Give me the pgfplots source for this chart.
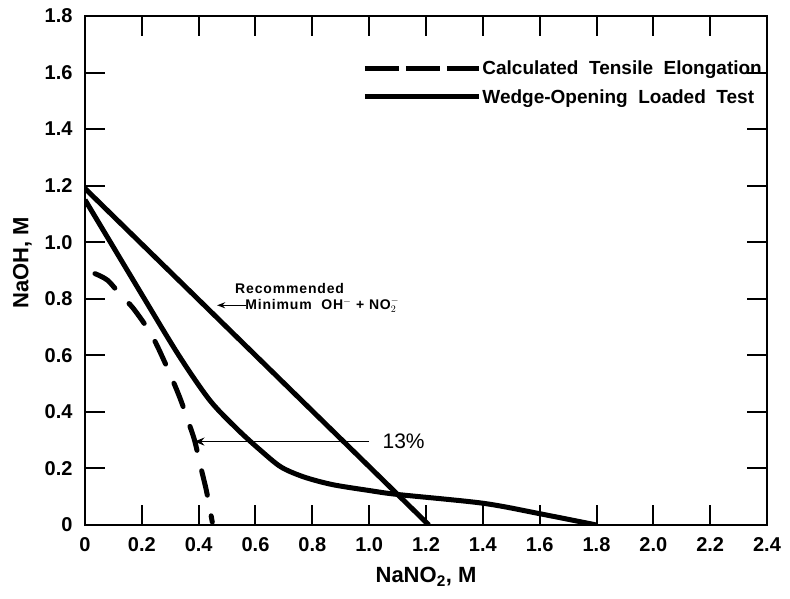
\documentclass[border=0pt]{standalone}
\usepackage{pgfplots}
\pgfplotsset{compat=1.18}
\usetikzlibrary{arrows.meta}
\usepackage{fontspec}
\setmainfont{Liberation Sans}
\begin{document}
\begin{tikzpicture}
\useasboundingbox (-85pt,-73pt) rectangle (705pt,525pt);
\begin{axis}[
  at={(0pt,0pt)}, anchor=south west,
  scale only axis, width=682pt, height=509pt,
  xmin=0, xmax=2.4, ymin=0, ymax=1.8,
  xtick={0,0.2,0.4,0.6,0.8,1.0,1.2,1.4,1.6,1.8,2.0,2.2,2.4},
  xticklabels={0,0.2,0.4,0.6,0.8,1.0,1.2,1.4,1.6,1.8,2.0,2.2,2.4},
  ytick={0,0.2,0.4,0.6,0.8,1.0,1.2,1.4,1.6,1.8},
  yticklabels={0,0.2,0.4,0.6,0.8,1.0,1.2,1.4,1.6,1.8},
  tick align=inside, major tick length=20pt,
  axis line style={line width=2.6pt},
  every tick/.style={line width=2pt, black},
  tick label style={font=\bfseries\fontsize{20}{22}\selectfont},
  xticklabel style={yshift=-9pt},
  yticklabel style={xshift=-9pt},
  xlabel={NaNO\textsubscript{2}, M},
  ylabel={NaOH, M},
  label style={font=\bfseries\fontsize{22}{24}\selectfont},
  xlabel style={yshift=-9pt},
  ylabel style={yshift=6pt, xshift=8pt},
  legend style={draw=none, fill=none, at={(axis cs:0.965,1.652)}, anchor=north west,
    font=\bfseries\fontsize{19}{21}\selectfont, row sep=11pt,
    nodes={inner xsep=1pt, inner ysep=1pt}},
  legend cell align=left,
  legend image code/.code={\draw[#1] (0pt,0pt) -- (114pt,0pt);},
]
\addlegendimage{line width=5pt, dash pattern=on 34pt off 7pt}
\addlegendentry{Calculated\ \ Tensile\ \ Elongation}
\addlegendimage{line width=5pt}
\addlegendentry{Wedge-Opening\ \ Loaded\ \ Test}
% Calculated tensile elongation (dashed)
\addplot[line width=5pt, line cap=round, dash pattern=on 25pt off 21pt, smooth, tension=0.5, forget plot] coordinates {
 (0.035,0.889) (0.08,0.865) (0.129,0.809) (0.17,0.766) (0.235,0.671) (0.293,0.548) (0.335,0.447) (0.37,0.347) (0.387,0.294) (0.41,0.194) (0.428,0.118) (0.448,0.01)
};
% Wedge-opening loaded test (solid)
\addplot[line width=5pt, smooth, tension=0.5, forget plot] coordinates {
 (0,1.15) (0.2,0.815) (0.33,0.6) (0.44,0.44) (0.54,0.335) (0.62,0.262) (0.69,0.205) (0.77,0.17) (0.87,0.143) (1.0,0.122) (1.1,0.108) (1.4,0.077) (1.6,0.04) (1.8,0)
};
% Recommended minimum OH- + NO2-
\addplot[line width=5pt, forget plot] coordinates {(0,1.19) (1.21,0)};
% annotations
\draw[line width=1.8pt, -{Stealth[length=10pt,width=8pt]}] (axis cs:1.0,0.295) -- (axis cs:0.385,0.295);
\node[anchor=west, font=\fontsize{21}{23}\selectfont] at (axis cs:1.035,0.295) {13\%};
\node[font=\bfseries\fontsize{14}{16}\selectfont\addfontfeature{LetterSpace=6}, inner ysep=1pt] at (axis cs:0.72,0.835) {Recommended};
\draw[line width=1.5pt, -{Stealth[length=8pt,width=6pt]}] (axis cs:0.565,0.777) -- (axis cs:0.465,0.777);
\node[anchor=west, font=\bfseries\fontsize{14}{16}\selectfont\addfontfeature{LetterSpace=6}, inner xsep=1pt, inner ysep=1pt] at (axis cs:0.56,0.777) {Minimum\ \ OH$^{-}$ + NO$_2^{-}$};
\end{axis}
\end{tikzpicture}
\end{document}
